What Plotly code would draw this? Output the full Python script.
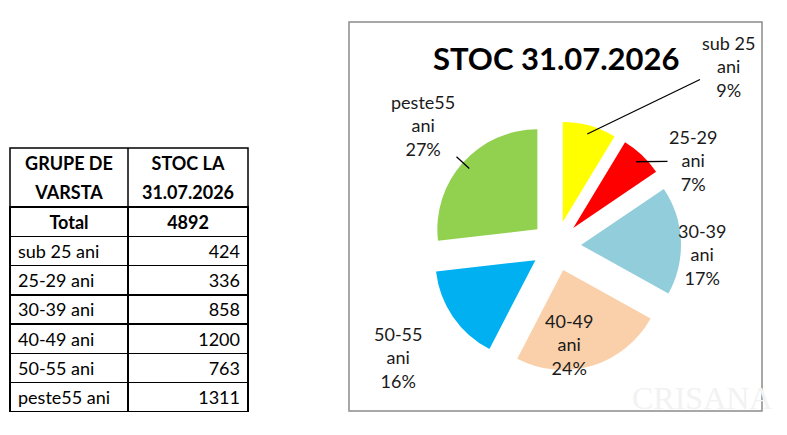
import math
import plotly.graph_objects as go

# --- Data ---
age_groups = ["sub 25 ani", "25-29 ani", "30-39 ani", "40-49 ani", "50-55 ani", "peste55 ani"]
stock_values = [424, 336, 858, 1200, 763, 1311]
pct_shown = [9, 7, 17, 24, 16, 27]  # as printed on the chart
slice_colors = ["#FFFF00", "#FF0000", "#92CDDC", "#FAD0AA", "#00B0F0", "#92D050"]

header_col1 = ["GRUPE DE", "VARSTA", "Total"]
header_col2 = ["STOC LA", "31.07.2026", str(sum(stock_values))]
chart_title = "STOC 31.07.2026"

W, H = 787, 435
FONT = "Lato"

# --- layout constants (pixels) ---
tbl_l, tbl_r, tbl_t, tbl_b = 10, 248, 148, 414
col_split = 128
pie_cx, pie_cy, pie_half = 556, 246, 125
PULL = 0.25
# label centres (Excel "best fit" placement) and which ones get leader lines
label_centers = [(728, 66), (693, 161), (702, 255), (569, 344), (398, 357), (423, 126)]
leader = [True, True, False, False, False, True]


def px(x):
    return x / W


def py(y):
    return 1 - y / H


fig = go.Figure()

# --- Table ---
hdr_line = [["white", "white", "black"], ["white", "white", "black"]]
fig.add_trace(
    go.Table(
        domain=dict(x=[px(tbl_l), px(tbl_r)], y=[py(tbl_b), py(tbl_t)]),
        columnwidth=[col_split - tbl_l, tbl_r - col_split],
        header=dict(
            values=[header_col1, header_col2],
            align="center",
            height=29.5,
            line=dict(color=hdr_line, width=1.5),
            fill_color="white",
            font=dict(family=FONT, size=18, color="black", weight="bold"),
        ),
        cells=dict(
            values=[age_groups, stock_values],
            align=["left", "right"],
            height=29.2,
            line=dict(color="black", width=1.5),
            fill_color="white",
            font=dict(family=FONT, size=18, color="black"),
        ),
    )
)
# border of the two-line header block
fig.add_shape(type="rect", xref="paper", yref="paper",
              x0=px(tbl_l), x1=px(tbl_r), y0=py(tbl_t + 59), y1=py(tbl_t),
              line=dict(color="black", width=1.5))
fig.add_shape(type="line", xref="paper", yref="paper",
              x0=px(col_split), x1=px(col_split), y0=py(tbl_t + 59), y1=py(tbl_t),
              line=dict(color="black", width=1.5))

# --- Pie ---
fig.add_trace(
    go.Pie(
        labels=age_groups,
        values=stock_values,
        textinfo="none",
        marker=dict(colors=slice_colors, line=dict(width=0)),
        pull=PULL,
        sort=False,
        direction="clockwise",
        rotation=0,
        showlegend=False,
        hoverinfo="label+value+percent",
        domain=dict(x=[px(pie_cx - pie_half), px(pie_cx + pie_half)],
                    y=[py(pie_cy + pie_half), py(pie_cy - pie_half)]),
    )
)

# data labels, leader lines aimed at the middle of each slice's outer edge
total = sum(stock_values)
cum = 0
for i, v in enumerate(stock_values):
    mid = (cum + v / 2) / total * 2 * math.pi
    cum += v
    name, last = age_groups[i].rsplit(" ", 1)
    text = f"{name}<br>{last}<br>{pct_shown[i]}%"
    lx, ly = label_centers[i]
    if leader[i]:
        dist = pie_half * 0.93
        tx = pie_cx + dist * math.sin(mid)
        ty = pie_cy - dist * math.cos(mid)
        fig.add_annotation(
            text=text, xref="paper", yref="paper", x=px(tx), y=py(ty),
            ax=lx - tx, ay=ly - ty, showarrow=True, arrowhead=0,
            arrowwidth=1.3, arrowcolor="black", standoff=0,
            font=dict(family=FONT, size=18, color="#1a1a1a"),
        )
    else:
        fig.add_annotation(
            text=text, xref="paper", yref="paper", x=px(lx), y=py(ly),
            xanchor="center", yanchor="middle", showarrow=False,
            font=dict(family=FONT, size=18, color="#1a1a1a"),
        )

# chart frame
fig.add_shape(
    type="rect", xref="paper", yref="paper",
    x0=px(349), x1=px(762), y0=py(411), y1=py(22),
    line=dict(color="#8C8C8C", width=1.5), fillcolor="rgba(0,0,0,0)",
)

fig.add_annotation(
    text="<b>" + chart_title + "</b>", xref="paper", yref="paper",
    x=px(556), y=py(58), xanchor="center", yanchor="middle", showarrow=False,
    font=dict(family=FONT, size=31, color="black"),
)

# faint watermark
fig.add_annotation(
    text="CRISANA", xref="paper", yref="paper",
    x=px(702), y=py(398), xanchor="center", yanchor="middle", showarrow=False,
    font=dict(family="Liberation Serif", size=32, color="#F2F2F2"),
)

fig.update_layout(
    width=W, height=H,
    margin=dict(l=0, r=0, t=0, b=0),
    paper_bgcolor="white",
    plot_bgcolor="white",
)

fig.write_html(
    "out.html",
    config={"displayModeBar": False},
    post_script="document.body.style.margin='0';",
)
